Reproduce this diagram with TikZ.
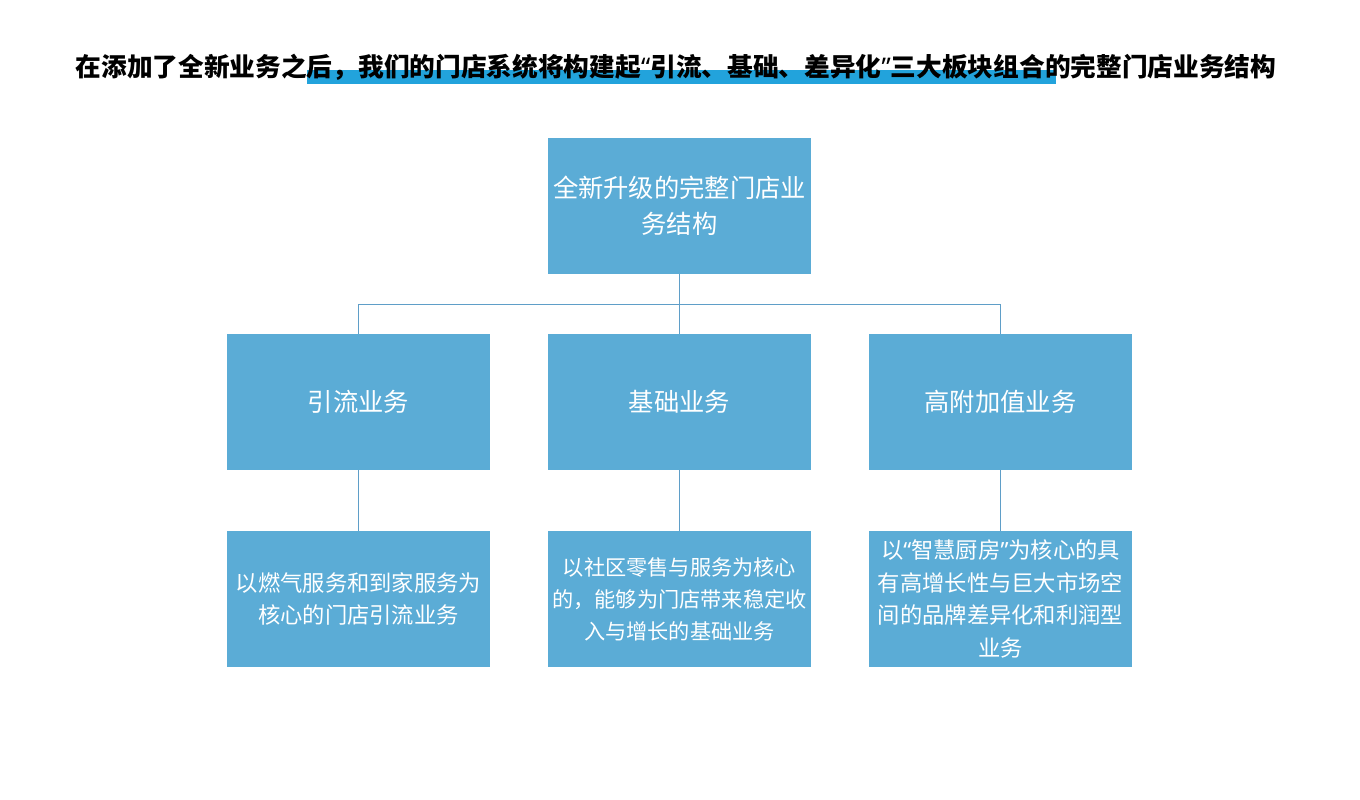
\documentclass[tikz,border=0pt]{standalone}
\usepackage{fontspec}
\usepackage{tikz}
\usetikzlibrary{positioning}
\newfontfamily\cjk{Noto Sans CJK SC}
\newfontfamily\qfont{Noto Sans}
\newcommand\openq{{\qfont “}}
\newcommand\closeq{{\qfont ”}}
\definecolor{boxblue}{RGB}{91,172,214}
\definecolor{lineblue}{RGB}{95,158,200}
\definecolor{markblue}{RGB}{34,163,220}

\begin{document}
\begin{tikzpicture}[x=1pt, y=-1pt,
  topbox/.style={rectangle, fill=boxblue, minimum width=263pt, minimum height=136pt,
                 text=white, align=center, inner sep=2pt,
                 font=\cjk\fontsize{25.3}{36}\selectfont},
  descbox/.style={rectangle, fill=boxblue, minimum width=263pt, minimum height=136pt,
                  text=white, align=center, inner sep=0pt,
                  font=\cjk\fontsize{22.3}{32.5}\selectfont},
  link/.style={draw=lineblue, line width=0.9pt}]
  \useasboundingbox (0,0) rectangle (1360,800);

  % title with marker bar
  \fill[markblue] (307,70) rectangle (1056,84);
  \node[font=\cjk\bfseries\fontsize{25.7}{30}\selectfont, inner sep=0pt] (title) at (676,67)
    {在添加了全新业务之后，我们的门店系统将构建起\openq 引流、基础、差异化\closeq 三大板块组合的完整门店业务结构};

  % tree
  \node[topbox] (whole) at (679.5,206) {全新升级的完整门店业\\务结构};
  \node[topbox] (lead)  at (358.5,402) {引流业务};
  \node[topbox] (base)  at (679.5,402) {基础业务};
  \node[topbox] (extra) at (1000.5,402) {高附加值业务};
  \coordinate (bus) at (679.5,304);
  \draw[link] (whole.south) -- (bus);
  \draw[link] (bus) -| (lead.north);
  \draw[link] (bus) -- (base.north);
  \draw[link] (bus) -| (extra.north);

  % descriptions
  \node[descbox] (leadtxt)  at (358.5,599) {以燃气服务和到家服务为\\核心的门店引流业务};
  \node[descbox, font=\cjk\fontsize{21.2}{32}\selectfont] (basetxt) at (679.5,599)
    {以社区零售与服务为核心\\的，能够为门店带来稳定收\\入与增长的基础业务};
  \node[descbox] (extratxt) at (1000.5,599) {以\openq 智慧厨房\closeq 为核心的具\\有高增长性与巨大市场空\\间的品牌差异化和利润型\\业务};
  \draw[link] (lead) -- (leadtxt);
  \draw[link] (base) -- (basetxt);
  \draw[link] (extra) -- (extratxt);
\end{tikzpicture}
\end{document}
